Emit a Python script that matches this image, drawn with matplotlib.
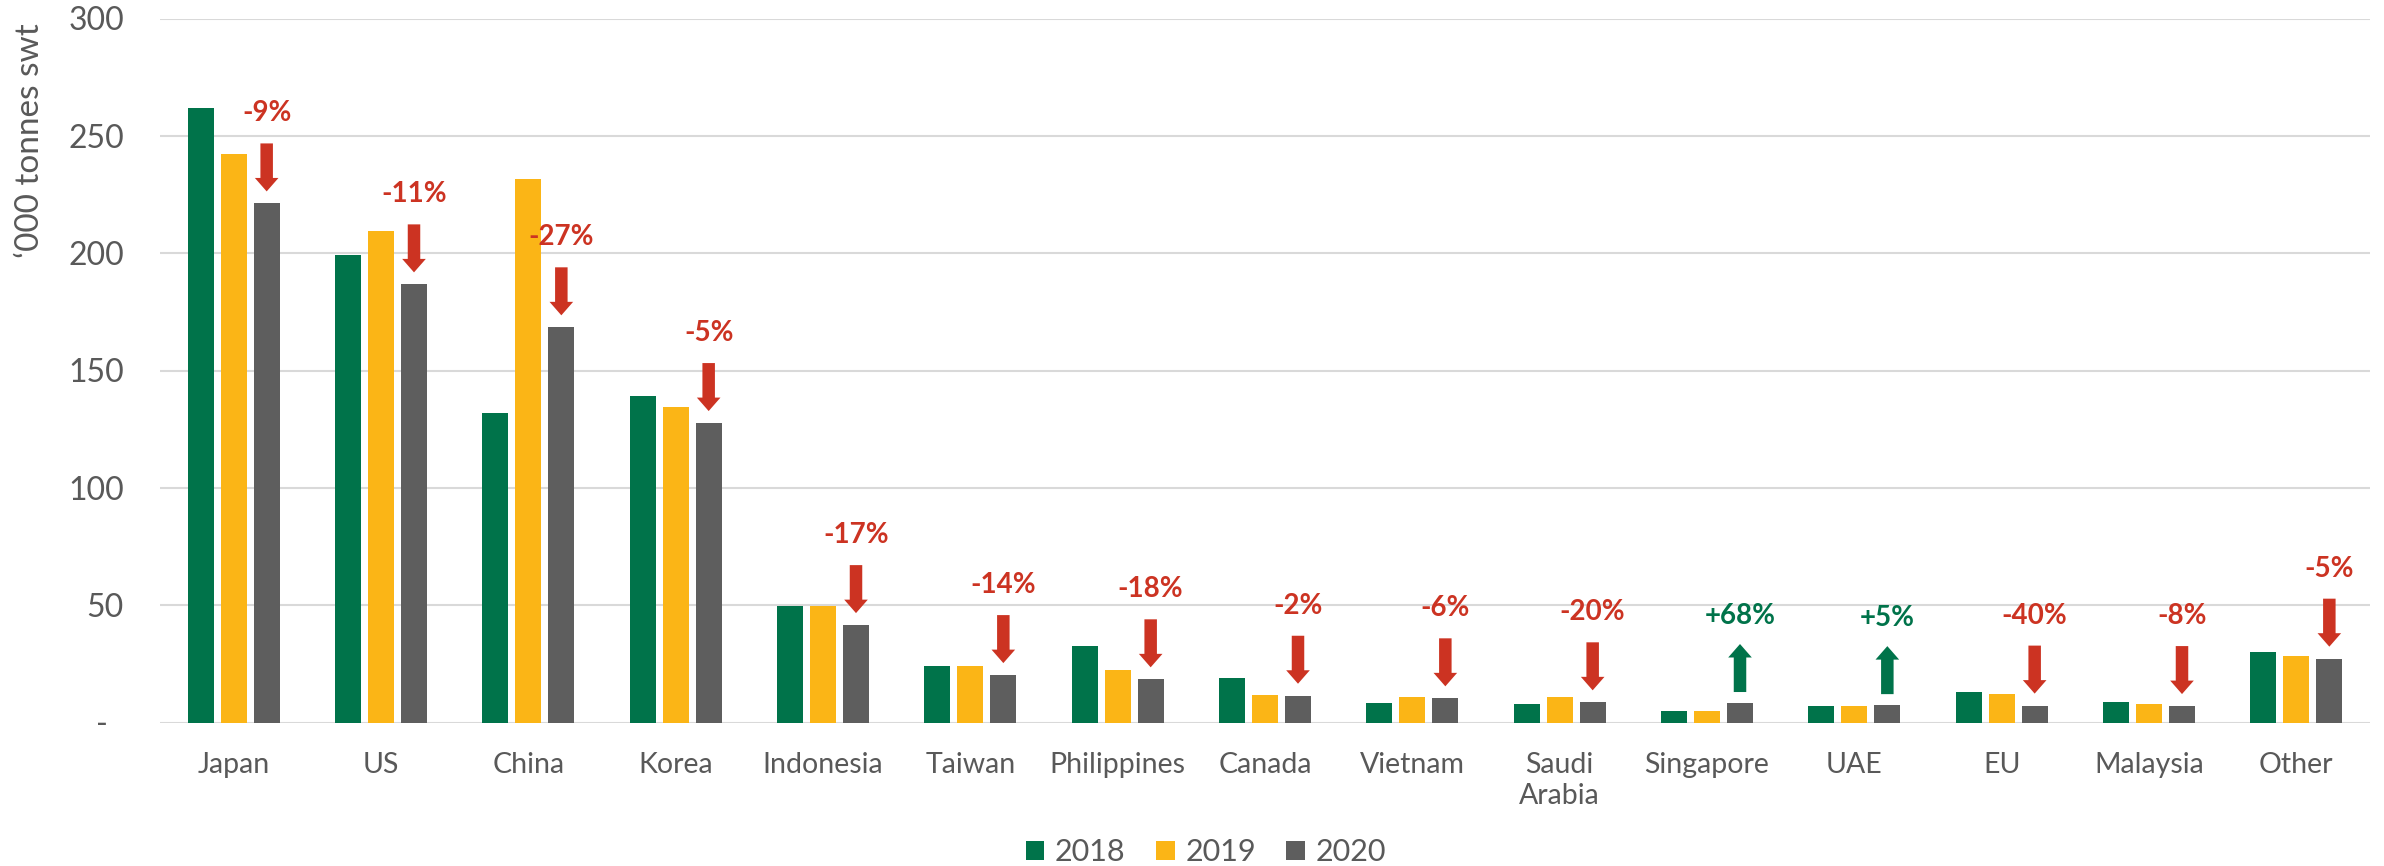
import matplotlib.pyplot as plt
from matplotlib.patches import FancyArrowPatch, ArrowStyle
import numpy as np

# --- data ('000 tonnes swt) ---
countries = ["Japan", "US", "China", "Korea", "Indonesia", "Taiwan", "Philippines",
             "Canada", "Vietnam", "Saudi\nArabia", "Singapore", "UAE", "EU", "Malaysia", "Other"]
y2018 = [261.7, 199.2, 131.9, 139.2, 49.8, 23.9, 32.5, 18.8, 8.2, 7.8, 4.8, 7.0, 13.1, 8.7, 29.9]
y2019 = [242.2, 209.3, 231.4, 134.4, 49.8, 23.9, 22.4, 11.6, 10.9, 10.7, 4.8, 7.0, 12.1, 7.8, 28.5]
y2020 = [221.2, 186.7, 168.4, 127.6, 41.5, 20.2, 18.4, 11.4, 10.3, 8.6, 8.3, 7.4, 7.2, 7.0, 27.2]
changes = ["-9%", "-11%", "-27%", "-5%", "-17%", "-14%", "-18%", "-2%", "-6%", "-20%",
           "+68%", "+5%", "-40%", "-8%", "-5%"]
yticks = [0, 50, 100, 150, 200, 250, 300]
ytick_labels = ["-  ", "50", "100", "150", "200", "250", "300"]

GREEN = "#00734A"
YELLOW = "#FBB516"
GREY = "#5E5E5E"
RED = "#CC3322"
TEXT = "#595959"

plt.rcParams['font.family'] = ['Lato', 'DejaVu Sans']

W, H = 2384, 866
fig = plt.figure(figsize=(W / 100, H / 100), dpi=100)
left, right, bottom, top = 160, 2370, 722.5, 18.5
ax = fig.add_axes([left / W, 1 - bottom / H, (right - left) / W, (bottom - top) / H])

x = np.arange(len(countries))
bw = 0.1765
step = 0.224
ax.bar(x - step, y2018, bw, color=GREEN, label="2018", zorder=2)
ax.bar(x, y2019, bw, color=YELLOW, label="2019", zorder=2)
ax.bar(x + step, y2020, bw, color=GREY, label="2020", zorder=2)

ax.set_xlim(-0.5, len(countries) - 0.5)
ax.set_ylim(0, 300)
ax.set_yticks(yticks)
ax.set_yticklabels(ytick_labels)
ax.set_xticks(x)
ax.set_xticklabels(countries, linespacing=1.25)
ax.tick_params(axis='y', length=0, pad=26, labelsize=23, labelcolor=TEXT)
ax.tick_params(axis='x', length=0, pad=21, labelsize=20.5, labelcolor=TEXT)
ax.grid(axis='y', color="#D9D9D9", linewidth=1.5, zorder=0)
ax.set_axisbelow(True)
for s in ax.spines.values():
    s.set_visible(False)

# --- change arrows and labels ---
upp = 300 / (bottom - top)  # data units per pixel
style = ArrowStyle('simple', head_length=9.7, head_width=17, tail_width=9)
for i, (g, c) in enumerate(zip(y2020, changes)):
    xc = x[i] + step
    if c.startswith("-"):
        col = RED
        y_tip = g + 12 * upp
        y_tail = y_tip + 48 * upp
        y_txt = y_tail + 30 * upp
    else:
        col = GREEN
        y_tail = g + 11 * upp
        y_tip = y_tail + 48 * upp
        y_txt = y_tip + 28 * upp
    arr = FancyArrowPatch((xc, y_tail), (xc, y_tip), arrowstyle=style, mutation_scale=1,
                          shrinkA=0, shrinkB=0, color=col, lw=0, zorder=3)
    ax.add_patch(arr)
    ax.text(xc, y_txt, c, ha='center', va='center', fontsize=20, fontweight='bold', color=col)

fig.text(30 / W, 1 - 141 / H, "\u2018000 tonnes swt", rotation=90, ha='center', va='center',
         fontsize=24, color=TEXT)

fig.legend(loc='center', bbox_to_anchor=(1206 / W, 1 - 852 / H), ncol=3, frameon=False,
           fontsize=22, labelcolor=TEXT, handlelength=0.6, handleheight=0.6,
           handletextpad=0.35, columnspacing=1.0)

fig.savefig("out.png", dpi=100)
